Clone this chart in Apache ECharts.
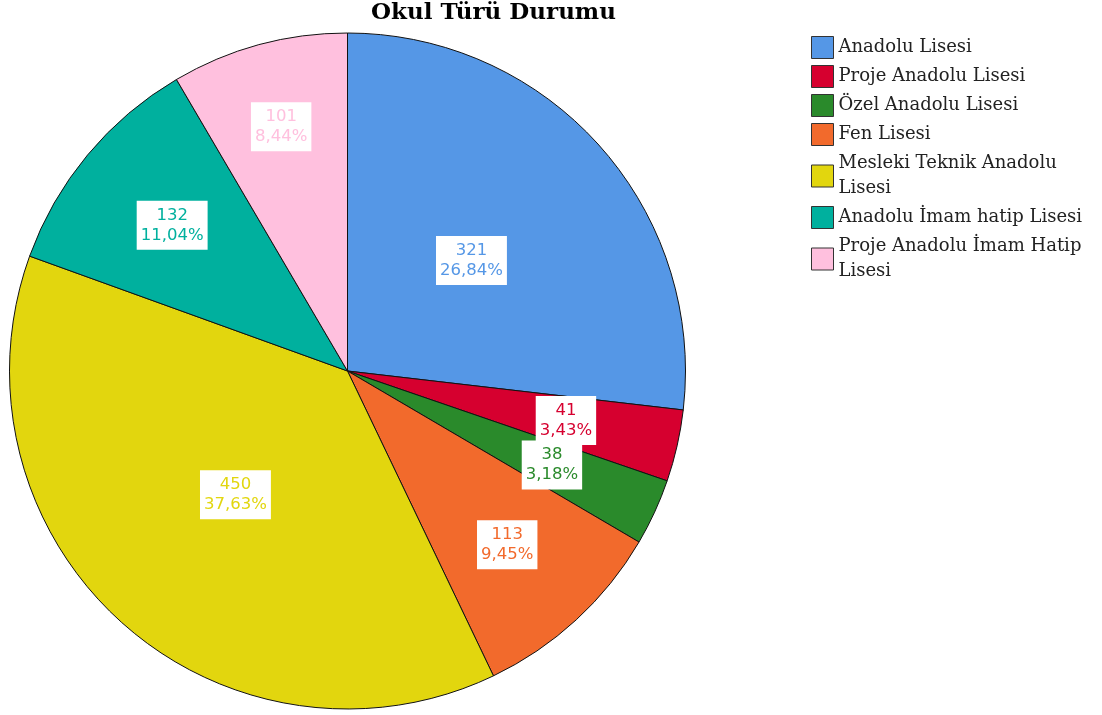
<!DOCTYPE html>
<html>
<head>
<meta charset="utf-8">
<script src="https://cdn.jsdelivr.net/npm/echarts@6/dist/echarts.min.js"></script>
<style>
  html, body { margin: 0; padding: 0; background: #fff; }
  #chart { width: 1102px; height: 715px; }
</style>
</head>
<body>
<div id="chart"></div>
<script>
const categories = [
  "Anadolu Lisesi",
  "Proje Anadolu Lisesi",
  "Özel Anadolu Lisesi",
  "Fen Lisesi",
  "Mesleki Teknik Anadolu Lisesi",
  "Anadolu İmam hatip Lisesi",
  "Proje Anadolu İmam Hatip Lisesi",
];
const counts = [321, 41, 38, 113, 450, 132, 101];
const legendNames = {
  "Mesleki Teknik Anadolu Lisesi": "Mesleki Teknik Anadolu\nLisesi",
  "Proje Anadolu İmam Hatip Lisesi": "Proje Anadolu İmam Hatip\nLisesi",
};

const colors = ["#5597e6", "#d6002f", "#2a8a2b", "#f26a2c", "#e2d60e", "#00b09e", "#ffc0de"];
// radial distance of each label from the pie centre (px)
const labelDist = [166, 224, 225, 236, 167, 228, 253];

const cx = 347.5, cy = 371, R = 338;
const total = counts.reduce((a, b) => a + b, 0);

const chartDom = document.getElementById("chart");
const myChart = echarts.init(chartDom);

const option = {
  animation: false,
  title: {
    text: "Okul Türü Durumu",
    left: 371,
    top: 0,
    padding: [2, 0, 0, 0],
    textStyle: {
      fontFamily: "DejaVu Serif",
      fontWeight: "bold",
      fontSize: 23,
      color: "#000",
    },
  },
  legend: {
    orient: "vertical",
    left: 811,
    top: 35,
    padding: 0,
    itemWidth: 22,
    itemHeight: 22,
    itemGap: 4,
    icon: "rect",
    itemStyle: { borderColor: "#333", borderWidth: 1 },
    formatter: (name) => legendNames[name] || name,
    textStyle: {
      fontFamily: "DejaVu Serif",
      fontSize: 18,
      lineHeight: 25,
      color: "#222",
    },
    data: categories,
  },
  series: [
    {
      type: "pie",
      center: [cx, cy],
      radius: [0, R],
      startAngle: 90,
      clockwise: true,
      data: categories.map((name, i) => ({
        name,
        value: counts[i],
        itemStyle: { color: colors[i] },
        label: { color: colors[i] },
      })),
      itemStyle: { borderColor: "#111", borderWidth: 1 },
      label: {
        position: "inside",
        formatter: (p) =>
          p.value + "\n" + ((p.value / total) * 100).toFixed(2).replace(".", ",") + "%",
        fontFamily: "DejaVu Sans",
        fontSize: 16.5,
        lineHeight: 20,
        align: "center",
        backgroundColor: "#fff",
        padding: [5, 4, 4, 4],
      },
      labelLine: { show: false },
      labelLayout: (params) => {
        const r = params.labelRect;
        const lx = r.x + r.width / 2 - cx;
        const ly = r.y + r.height / 2 - cy;
        const d = Math.sqrt(lx * lx + ly * ly) || 1;
        const k = labelDist[params.dataIndex] / d;
        return {
          x: cx + lx * k,
          y: cy + ly * k,
          align: "center",
          verticalAlign: "middle",
        };
      },
      emphasis: { disabled: true },
    },
  ],
};

myChart.setOption(option);
</script>
</body>
</html>
